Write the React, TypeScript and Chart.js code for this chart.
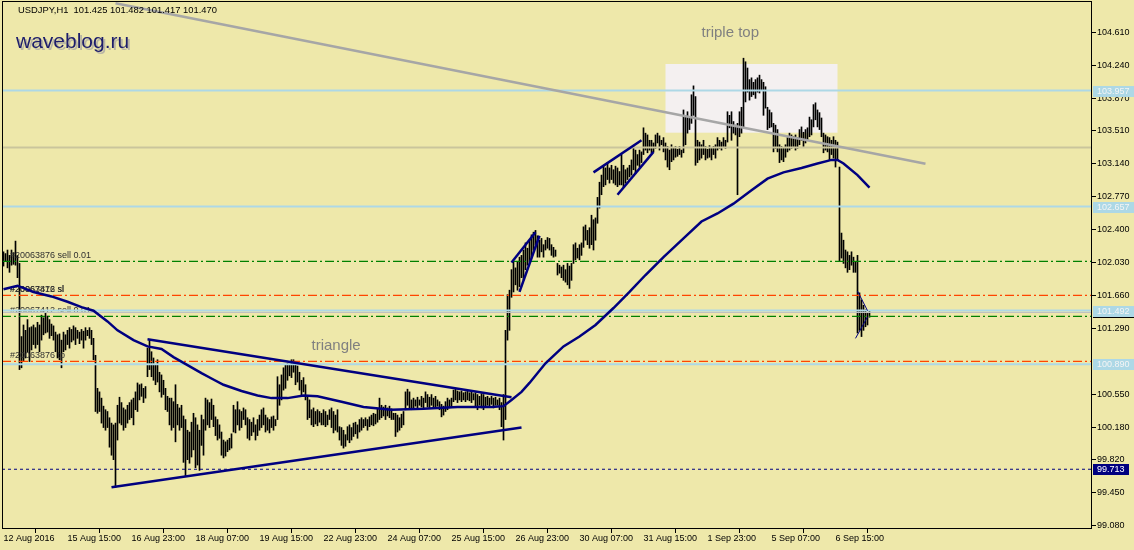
import React, { useEffect, useRef } from "react";
import { Chart, registerables } from "chart.js";
Chart.register(...registerables);

// ---------- data ----------
const headerText = "USDJPY,H1  101.425 101.482 101.417 101.470";
const siteText = "waveblog.ru";

const timeTickBars = [0, 32, 64, 96, 128, 160, 192, 224, 256, 288, 320, 352, 384, 416];
const timeLabels = [
  "12 Aug 2016", "15 Aug 15:00", "16 Aug 23:00", "18 Aug 07:00", "19 Aug 15:00",
  "22 Aug 23:00", "24 Aug 07:00", "25 Aug 15:00", "26 Aug 23:00", "30 Aug 07:00",
  "31 Aug 15:00", "1 Sep 23:00", "5 Sep 07:00", "6 Sep 15:00",
];
const priceTicks = [
  99.08, 99.45, 99.82, 100.18, 100.55, 101.29, 101.66, 102.03,
  102.4, 102.77, 103.14, 103.51, 103.87, 104.24, 104.61,
];

// hourly bar highs / lows (USDJPY H1)
const highs = [
  102.15, 102.13, 102.17, 102.11, 102.17, 102.14, 102.27, 102.11, 102.02, 101.20,
  101.33, 101.27, 101.39, 101.30, 101.31, 101.33, 101.30, 101.36, 101.33, 101.44,
  101.41, 101.46, 101.43, 101.39, 101.34, 101.32, 101.25, 101.22, 101.23, 101.16,
  101.25, 101.22, 101.27, 101.30, 101.28, 101.32, 101.30, 101.27, 101.25, 101.28,
  101.26, 101.30, 101.27, 101.30, 101.27, 101.18, 100.99, 100.62, 100.58, 100.51,
  100.42, 100.38, 100.36, 100.29, 100.23, 100.21, 100.23, 100.43, 100.52, 100.46,
  100.40, 100.38, 100.43, 100.46, 100.49, 100.51, 100.58, 100.68, 100.66, 100.67,
  100.62, 100.64, 101.07, 101.16, 101.03, 100.96, 100.88, 100.94, 100.80, 100.77,
  100.71, 100.62, 100.53, 100.51, 100.51, 100.47, 100.66, 100.44, 100.40, 100.43,
  100.31, 100.27, 100.15, 100.13, 100.24, 100.34, 100.29, 100.21, 100.15, 100.32,
  100.27, 100.51, 100.49, 100.46, 100.50, 100.43, 100.30, 100.27, 100.21, 100.13,
  100.04, 100.02, 100.04, 100.06, 100.11, 100.43, 100.38, 100.47, 100.38, 100.36,
  100.40, 100.38, 100.29, 100.27, 100.24, 100.29, 100.21, 100.27, 100.32, 100.38,
  100.40, 100.32, 100.29, 100.27, 100.30, 100.31, 100.27, 100.75, 100.66, 100.77,
  100.85, 100.88, 100.90, 100.89, 100.94, 100.94, 100.92, 100.87, 100.80, 100.71,
  100.74, 100.66, 100.52, 100.49, 100.38, 100.40, 100.36, 100.38, 100.36, 100.34,
  100.38, 100.36, 100.32, 100.38, 100.40, 100.36, 100.32, 100.38, 100.19, 100.18,
  100.15, 100.10, 100.19, 100.21, 100.18, 100.23, 100.24, 100.21, 100.27, 100.29,
  100.27, 100.29, 100.27, 100.30, 100.32, 100.34, 100.33, 100.39, 100.51, 100.43,
  100.41, 100.43, 100.40, 100.42, 100.39, 100.34, 100.34, 100.32, 100.29, 100.33,
  100.36, 100.58, 100.61, 100.58, 100.49, 100.51, 100.49, 100.52, 100.49, 100.53,
  100.51, 100.58, 100.55, 100.52, 100.55, 100.51, 100.53, 100.49, 100.47, 100.44,
  100.42, 100.47, 100.51, 100.49, 100.51, 100.60, 100.62, 100.59, 100.58, 100.59,
  100.57, 100.58, 100.59, 100.57, 100.58, 100.56, 100.57, 100.55, 100.53, 100.56,
  100.55, 100.52, 100.53, 100.51, 100.53, 100.51, 100.52, 100.49, 100.51, 100.46,
  100.55, 101.27, 101.67, 101.72, 101.95, 102.04, 101.97, 102.04, 102.09, 102.11,
  102.17, 102.25, 102.19, 102.28, 102.34, 102.37, 102.39, 102.33, 102.28, 102.30,
  102.23, 102.28, 102.31, 102.30, 102.23, 102.20, 102.17, 102.02, 102.00, 101.98,
  102.00, 101.95, 102.02, 101.99, 102.02, 102.23, 102.25, 102.19, 102.23, 102.25,
  102.43, 102.45, 102.39, 102.42, 102.56, 102.51, 102.53, 102.76, 102.93, 103.01,
  103.12, 103.09, 103.15, 103.09, 103.12, 103.07, 103.11, 103.09, 103.05, 103.24,
  103.12, 103.07, 103.09, 103.12, 103.18, 103.33, 103.29, 103.24, 103.29, 103.27,
  103.54, 103.48, 103.46, 103.40, 103.40, 103.37, 103.46, 103.48, 103.45, 103.40,
  103.43, 103.37, 103.33, 103.29, 103.35, 103.31, 103.33, 103.30, 103.33, 103.29,
  103.74, 103.68, 103.72, 103.65, 103.91, 104.01, 103.89, 103.40, 103.38, 103.35,
  103.40, 103.33, 103.30, 103.34, 103.31, 103.33, 103.35, 103.43, 103.40, 103.38,
  103.43, 103.40, 103.72, 103.68, 103.72, 103.61, 103.57, 103.59, 103.72, 103.77,
  104.32, 104.28, 104.21, 104.08, 104.10, 104.05, 104.08, 104.10, 104.13, 104.08,
  104.05, 104.00, 103.77, 103.74, 103.71, 103.59, 103.57, 103.52, 103.35, 103.33,
  103.31, 103.35, 103.43, 103.48, 103.46, 103.44, 103.46, 103.43, 103.52, 103.55,
  103.49, 103.52, 103.54, 103.66, 103.63, 103.80, 103.82, 103.74, 103.71, 103.65,
  103.48, 103.46, 103.44, 103.43, 103.40, 103.44, 103.40, 103.38, 103.10, 102.36,
  102.28, 102.17, 102.15, 102.11, 102.15, 102.09, 102.04, 102.11, 101.69, 101.61,
  101.55, 101.50, 101.46, 101.482,
];
const lows = [
  101.99, 102.04, 101.97, 101.92, 102.00, 102.01, 102.00, 101.86, 100.83, 100.85,
  100.92, 100.96, 101.03, 100.92, 101.05, 101.11, 101.07, 101.11, 101.03, 101.16,
  101.22, 101.24, 101.25, 101.18, 101.21, 101.16, 101.03, 100.96, 100.94, 100.85,
  101.03, 101.05, 101.11, 101.07, 101.14, 101.16, 101.11, 101.18, 101.12, 101.16,
  101.07, 101.16, 101.21, 101.18, 101.11, 100.94, 100.36, 100.34, 100.36, 100.23,
  100.18, 100.15, 100.18, 99.96, 99.87, 99.82, 99.51, 100.04, 100.23, 100.21,
  100.15, 100.18, 100.23, 100.27, 100.29, 100.21, 100.38, 100.36, 100.49, 100.53,
  100.46, 100.51, 100.75, 100.83, 100.75, 100.71, 100.66, 100.69, 100.58, 100.52,
  100.55, 100.38, 100.36, 100.21, 100.15, 100.18, 100.02, 100.21, 100.15, 100.18,
  99.79, 99.63, 99.82, 99.78, 99.85, 99.93, 99.73, 99.76, 99.70, 99.98,
  99.87, 100.15, 100.21, 100.18, 100.27, 100.19, 100.09, 100.04, 100.06, 99.87,
  99.84, 99.86, 99.91, 99.93, 99.95, 100.13, 100.12, 100.21, 100.15, 100.18,
  100.27, 100.21, 100.06, 100.04, 100.09, 100.13, 100.04, 100.09, 100.15, 100.18,
  100.21, 100.13, 100.15, 100.12, 100.18, 100.15, 100.20, 100.27, 100.43, 100.49,
  100.60, 100.62, 100.71, 100.76, 100.74, 100.80, 100.66, 100.69, 100.60, 100.53,
  100.58, 100.49, 100.27, 100.29, 100.21, 100.19, 100.22, 100.20, 100.24, 100.21,
  100.21, 100.19, 100.21, 100.27, 100.18, 100.12, 100.15, 100.13, 100.04, 99.98,
  99.95, 99.97, 100.04, 100.01, 100.04, 100.08, 100.11, 100.06, 100.13, 100.15,
  100.18, 100.20, 100.15, 100.19, 100.21, 100.20, 100.22, 100.24, 100.27, 100.29,
  100.31, 100.27, 100.31, 100.29, 100.27, 100.27, 100.08, 100.13, 100.15, 100.18,
  100.21, 100.38, 100.43, 100.40, 100.38, 100.40, 100.42, 100.40, 100.43, 100.41,
  100.40, 100.46, 100.41, 100.40, 100.43, 100.41, 100.40, 100.42, 100.38, 100.30,
  100.32, 100.36, 100.38, 100.40, 100.41, 100.47, 100.49, 100.46, 100.49, 100.47,
  100.49, 100.47, 100.49, 100.48, 100.46, 100.49, 100.41, 100.38, 100.43, 100.40,
  100.38, 100.42, 100.43, 100.41, 100.44, 100.40, 100.43, 100.43, 100.38, 100.19,
  100.04, 100.27, 101.16, 101.27, 101.64, 101.70, 101.78, 101.72, 101.76, 101.86,
  101.83, 101.95, 102.00, 102.04, 102.09, 102.17, 102.23, 102.09, 102.09, 102.15,
  102.09, 102.17, 102.19, 102.17, 102.11, 102.09, 102.10, 101.89, 101.91, 101.86,
  101.83, 101.81, 101.78, 101.74, 101.83, 102.02, 102.06, 102.08, 102.06, 102.11,
  102.20, 102.28, 102.23, 102.19, 102.23, 102.17, 102.28, 102.47, 102.64, 102.79,
  102.88, 102.90, 102.96, 102.92, 102.96, 102.92, 102.90, 102.88, 102.90, 102.90,
  102.88, 102.92, 102.96, 102.99, 103.01, 103.07, 103.03, 103.12, 103.10, 103.15,
  103.24, 103.29, 103.26, 103.29, 103.26, 103.27, 103.31, 103.37, 103.29, 103.35,
  103.27, 103.18, 103.10, 103.07, 103.16, 103.18, 103.21, 103.22, 103.24, 103.21,
  103.26, 103.35, 103.48, 103.52, 103.59, 103.68, 103.12, 103.15, 103.18, 103.20,
  103.24, 103.18, 103.20, 103.21, 103.18, 103.24, 103.20, 103.29, 103.31, 103.29,
  103.33, 103.31, 103.38, 103.54, 103.40, 103.48, 103.46, 102.79, 103.44, 103.48,
  103.54, 103.83, 103.94, 103.85, 103.89, 103.91, 103.87, 103.94, 103.93, 103.96,
  103.68, 103.76, 103.52, 103.54, 103.55, 103.27, 103.31, 103.27, 103.15, 103.18,
  103.16, 103.21, 103.27, 103.29, 103.31, 103.33, 103.29, 103.31, 103.35, 103.40,
  103.33, 103.37, 103.40, 103.44, 103.46, 103.55, 103.63, 103.55, 103.52, 103.44,
  103.26, 103.29, 103.27, 103.18, 103.24, 103.20, 103.10, 103.18, 102.04, 102.08,
  102.02, 101.97, 101.92, 101.95, 102.00, 101.92, 101.92, 101.24, 101.27, 101.20,
  101.27, 101.31, 101.33, 101.417,
];

// moving average (bar index, value)
const maBars = [
  0, 7, 15, 24, 32, 39, 45, 52, 57, 65, 72, 79, 85, 92, 99, 104, 110, 119, 127, 134,
  142, 150, 157, 169, 180, 194, 210, 227, 244, 250, 254, 259, 263, 271, 280, 288, 296,
  305, 313, 321, 330, 340, 349, 357, 365, 374, 382, 390, 399, 407, 414, 417, 420, 427, 433,
];
const maValues = [
  101.73, 101.77, 101.70, 101.65, 101.59, 101.53, 101.49, 101.37, 101.27, 101.16,
  101.09, 101.06, 100.97, 100.88, 100.79, 100.73, 100.66, 100.59, 100.54, 100.51,
  100.51, 100.54, 100.53, 100.47, 100.41, 100.38, 100.39, 100.41, 100.41, 100.42,
  100.49, 100.58, 100.68, 100.90, 101.09, 101.20, 101.33, 101.52, 101.70, 101.89,
  102.09, 102.30, 102.49, 102.58, 102.69, 102.84, 102.97, 103.04, 103.09, 103.14,
  103.18, 103.18, 103.14, 103.01, 102.87,
];

// drawn objects (bar index, price)
const resistanceLine = [[56, 104.935], [461, 103.137]];
const triangleUpper = [[72, 101.17], [254, 100.52]];
const triangleLower = [[54, 99.51], [259, 100.18]];
const wedge1Upper = [[254, 102.03], [266, 102.37]];
const wedge1Lower = [[258, 101.7], [268, 102.33]];
const wedge2Upper = [[295, 103.04], [319, 103.4]];
const wedge2Lower = [[307, 102.79], [325, 103.27]];
const wedge3Upper = [[427, 101.71], [432, 101.49]];
const wedge3Lower = [[426, 101.18], [432, 101.42]];
const tripleTopBox = { fromBar: 331, toBar: 417, top: 104.255, bottom: 103.485 };

const blueLevels = [103.957, 102.657, 101.492, 100.89];
const khakiLevel = 103.32;
const bidLevel = 101.47;
const greenOrderLevels = [102.043, 101.427];
const redOrderLevels = [101.662, 100.922];
const supportLevel = 99.713;

const orderLabels = [
  { text: "#20063876 sell 0.01", price: 102.043 },
  { text: "#20067412 sl", price: 101.662 },
  { text: "#20063876 sl", price: 101.662 },
  { text: "#20067412 sell 0.01", price: 101.427 },
  { text: "#20063876 tp", price: 100.922 },
];
const notes = [
  { text: "triple top", bar: 349, price: 104.6 },
  { text: "triangle", bar: 154, price: 101.1 },
];
const axisTags = [
  { price: 101.47, text: "101.470", kind: "bid" },
  { price: 103.957, text: "103.957", kind: "level" },
  { price: 102.657, text: "102.657", kind: "level" },
  { price: 101.492, text: "101.492", kind: "level" },
  { price: 100.89, text: "100.890", kind: "level" },
  { price: 99.713, text: "99.713", kind: "support" },
];

// ---------- layout / style ----------
const X_MIN = -0.75;
const X_MAX = 544.25;
const Y_MIN = 99.043;
const Y_MAX = 104.95;
const BG = "#eee8aa";
const NAVY = "#000080";
const LIGHTBLUE = "#add8e6";
const FONT = "'Liberation Sans', Arial, sans-serif";

export default function App() {
  const ref = useRef<HTMLCanvasElement>(null);

  useEffect(() => {
    document.body.style.margin = "0";
    const canvas = ref.current;
    if (!canvas) return;

    const hline = (v: number, color: string, width: number, dash: number[], order: number) => ({
      type: "line" as const,
      data: [{ x: X_MIN, y: v }, { x: X_MAX, y: v }],
      borderColor: color,
      borderWidth: width,
      borderDash: dash,
      pointRadius: 0,
      order,
      clip: 0,
    });
    const seg = (pts: number[][], color: string, width: number, order: number) => ({
      type: "line" as const,
      data: pts.map((p) => ({ x: p[0], y: p[1] })),
      borderColor: color,
      borderWidth: width,
      pointRadius: 0,
      order,
      clip: 0,
    });
    const DASHDOT = [9, 3, 2, 3];

    const datasets: any[] = [
      {
        type: "bar",
        data: highs.map((h, i) => ({ x: i, y: [lows[i], h] })),
        backgroundColor: "#000000",
        borderWidth: 0,
        barThickness: 1,
        order: 100,
      },
      ...greenOrderLevels.map((v) => hline(v, "#008000", 1.3, DASHDOT, 60)),
      ...redOrderLevels.map((v) => hline(v, "#ff4500", 1.3, DASHDOT, 60)),
      hline(supportLevel, NAVY, 1.2, [3, 3], 60),
      hline(khakiLevel, "#cac59c", 2, [], 55),
      hline(bidLevel, "#c0c0c0", 1, [], 55),
      ...blueLevels.map((v) => hline(v, LIGHTBLUE, 2, [], 50)),
      seg(resistanceLine, "#a6a6a6", 2.5, 20),
      {
        type: "line",
        data: maBars.map((b, i) => ({ x: b, y: maValues[i] })),
        borderColor: NAVY,
        borderWidth: 2.5,
        pointRadius: 0,
        tension: 0,
        order: 30,
        clip: 0,
      },
      seg(triangleUpper, NAVY, 2.5, 25),
      seg(triangleLower, NAVY, 2.5, 25),
      seg(wedge1Upper, NAVY, 2.5, 25),
      seg(wedge1Lower, NAVY, 2.5, 25),
      seg(wedge2Upper, NAVY, 2.5, 25),
      seg(wedge2Lower, NAVY, 2.5, 25),
      seg(wedge3Upper, NAVY, 1, 25),
      seg(wedge3Lower, NAVY, 1, 25),
    ];

    const decor = {
      id: "decor",
      beforeDraw(chart: any) {
        const ctx = chart.ctx;
        ctx.save();
        ctx.fillStyle = BG;
        ctx.fillRect(0, 0, chart.width, chart.height);
        ctx.restore();
      },
      beforeDatasetsDraw(chart: any) {
        const { ctx, scales } = chart;
        const xs = scales.x;
        const ys = scales.y;
        ctx.save();
        const x1 = xs.getPixelForValue(tripleTopBox.fromBar);
        const x2 = xs.getPixelForValue(tripleTopBox.toBar);
        const y1 = ys.getPixelForValue(tripleTopBox.top);
        const y2 = ys.getPixelForValue(tripleTopBox.bottom);
        ctx.fillStyle = "#f4f0f0";
        ctx.fillRect(x1, y1, x2 - x1, y2 - y1);
        ctx.restore();
      },
      afterDatasetDraw(chart: any, args: any) {
        if (args.index !== 0) return;
        const { ctx, scales } = chart;
        ctx.save();
        ctx.font = `9px ${FONT}`;
        ctx.fillStyle = "#303030";
        ctx.textBaseline = "bottom";
        ctx.textAlign = "left";
        for (const o of orderLabels) {
          ctx.fillText(o.text, chart.chartArea.left + 8, scales.y.getPixelForValue(o.price) - 1);
        }
        ctx.restore();
      },
      afterDatasetsDraw(chart: any) {
        const { ctx, scales } = chart;
        ctx.save();
        ctx.font = `15px ${FONT}`;
        ctx.fillStyle = "#808080";
        ctx.textBaseline = "middle";
        ctx.textAlign = "left";
        for (const n of notes) {
          ctx.fillText(n.text, scales.x.getPixelForValue(n.bar), scales.y.getPixelForValue(n.price));
        }
        ctx.restore();
      },
      afterDraw(chart: any) {
        const { ctx, scales, chartArea } = chart;
        ctx.save();
        ctx.strokeStyle = "#000";
        ctx.lineWidth = 1;
        ctx.strokeRect(chartArea.left + 0.5, chartArea.top - 0.5, chartArea.right - chartArea.left - 1, chartArea.bottom - chartArea.top);
        ctx.font = `9px ${FONT}`;
        ctx.textBaseline = "middle";
        ctx.textAlign = "left";
        for (const t of axisTags) {
          const y = scales.y.getPixelForValue(t.price);
          let bg = LIGHTBLUE;
          let fg = "#f4f4f4";
          let w = chart.width - chartArea.right;
          if (t.kind === "bid") { bg = "#000000"; fg = "#ffffff"; }
          if (t.kind === "support") { bg = NAVY; fg = "#ffffff"; w = 37; }
          ctx.fillStyle = bg;
          ctx.fillRect(chartArea.right + 1, Math.round(y) - 5, w - 1, 11);
          ctx.fillStyle = fg;
          ctx.fillText(t.text, chartArea.right + 5, Math.round(y) + 0.5);
        }
        ctx.fillStyle = "#000";
        ctx.font = `9.4px ${FONT}`;
        ctx.fillText(headerText, 18, 10.5);
        ctx.font = `21px ${FONT}`;
        ctx.textBaseline = "alphabetic";
        ctx.fillStyle = "rgba(120,120,160,0.45)";
        ctx.fillText(siteText, 18, 50);
        ctx.fillStyle = "#1d1d6b";
        ctx.fillText(siteText, 16, 48);
        ctx.restore();
      },
    };

    Chart.defaults.font.family = FONT;
    Chart.defaults.font.size = 9;
    Chart.defaults.color = "#000";

    const chart = new Chart(canvas, {
      type: "bar",
      data: { datasets },
      options: {
        responsive: false,
        animation: false,
        devicePixelRatio: 1,
        events: [],
        layout: { padding: { left: 2, top: 2, right: 0, bottom: 0 } },
        plugins: { legend: { display: false }, tooltip: { enabled: false } },
        scales: {
          x: {
            type: "linear",
            position: "bottom",
            min: X_MIN,
            max: X_MAX,
            offset: false,
            grid: { display: true, drawOnChartArea: false, drawTicks: true, tickLength: 4, color: "#000" },
            border: { display: false },
            ticks: {
              autoSkip: false,
              maxRotation: 0,
              minRotation: 0,
              align: "start",
              padding: 0,
              color: "#000",
              font: { size: 9, family: FONT },
              callback: (_v: any, i: number) => timeLabels[i],
            },
            afterBuildTicks: (s: any) => { s.ticks = timeTickBars.map((v) => ({ value: v })); },
            afterFit: (s: any) => { s.height = 21; s.paddingLeft = 0; s.paddingRight = 0; },
          },
          y: {
            type: "linear",
            position: "right",
            min: Y_MIN,
            max: Y_MAX,
            grid: { display: true, drawOnChartArea: false, drawTicks: true, tickLength: 4, color: "#000" },
            border: { display: false },
            ticks: {
              padding: 1,
              color: "#000",
              font: { size: 9, family: FONT },
              callback: (v: any) => Number(v).toFixed(3),
            },
            afterBuildTicks: (s: any) => { s.ticks = priceTicks.map((v) => ({ value: v })); },
            afterFit: (s: any) => { s.width = 42; s.paddingTop = 0; s.paddingBottom = 0; },
          },
        },
      } as any,
      plugins: [decor],
    });
    return () => chart.destroy();
  }, []);

  return (
    <div style={{ width: 1134, height: 550 }}>
      <canvas ref={ref} width={1134} height={550} style={{ display: "block" }} />
    </div>
  );
}
